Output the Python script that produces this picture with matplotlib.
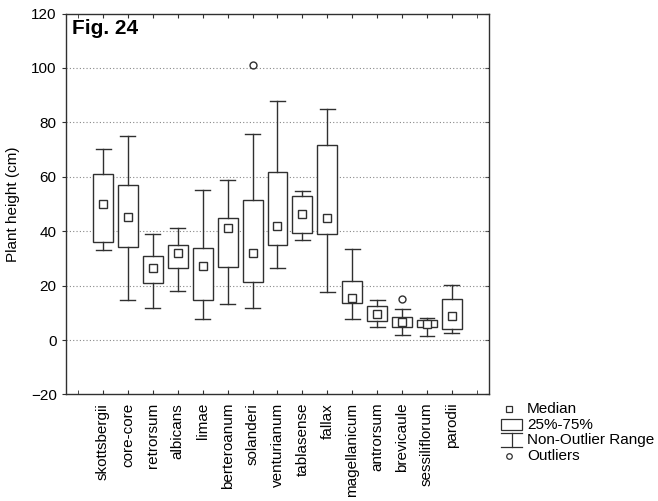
"""
Box plot of plant height per taxon (Fig. 24).
"""

import matplotlib
matplotlib.use("Agg")
import matplotlib.pyplot as plt
from matplotlib.lines import Line2D
from matplotlib.patches import Rectangle

plt.rcParams["font.family"] = ["Liberation Sans", "DejaVu Sans"]

# Taxa, left to right
TAXA = ["skottsbergii", "core-core", "retrorsum", "albicans", "limae",
        "berteroanum", "solanderi", "venturianum", "tablasense", "fallax",
        "magellanicum", "antrorsum", "brevicaule", "sessiliflorum", "parodii"]

# Plant height (cm)
MEDIAN = [50.1, 45.2, 26.4, 31.9, 27.4, 41.0, 31.9, 41.8, 46.2, 44.8,
          15.3, 9.6, 6.6, 6.0, 8.9]
Q25 = [36.0, 34.1, 21.0, 26.4, 14.7, 26.7, 21.2, 34.8, 39.3, 38.9,
       13.5, 6.9, 4.9, 4.7, 3.9]
Q75 = [61.0, 57.0, 31.0, 34.8, 34.0, 44.8, 51.4, 61.9, 52.8, 71.8,
       21.6, 12.6, 8.4, 7.2, 15.2]
RANGE_MIN = [33.0, 14.7, 11.9, 17.9, 7.7, 13.2, 11.7, 26.6, 36.8, 17.8,
             7.6, 4.9, 1.8, 1.5, 2.7]
RANGE_MAX = [70.2, 75.1, 39.0, 41.0, 55.0, 58.9, 75.9, 88.0, 54.8, 84.9,
             33.6, 14.7, 11.5, 8.2, 20.4]
OUTLIERS = {"solanderi": [101.0], "brevicaule": [15.0]}

EDGE = "#303030"

stats = []
for i, name in enumerate(TAXA):
    stats.append(dict(label=name, med=MEDIAN[i], q1=Q25[i], q3=Q75[i],
                      whislo=RANGE_MIN[i], whishi=RANGE_MAX[i],
                      fliers=OUTLIERS.get(name, [])))
pos = list(range(1, len(TAXA) + 1))

fig = plt.figure(figsize=(6.58, 5.01), dpi=100)
ax = fig.add_axes([0.0998, 0.2126, 0.6438, 0.7604])

ax.bxp(stats, positions=pos, widths=0.8, capwidths=0.6, patch_artist=True,
       showfliers=True,
       boxprops=dict(facecolor="white", edgecolor=EDGE, linewidth=1.0),
       whiskerprops=dict(color=EDGE, linewidth=1.0),
       capprops=dict(color=EDGE, linewidth=1.0),
       medianprops=dict(visible=False),
       flierprops=dict(marker="o", markerfacecolor="none", markeredgecolor=EDGE,
                       markersize=5, markeredgewidth=1.0),
       zorder=2)
ax.plot(pos, MEDIAN, ls="none", marker="s", ms=6, mfc="white", mec=EDGE,
        mew=1.0, zorder=3)

ax.set_xlim(-0.5, 16.5)
ax.set_ylim(-20, 120)
ax.set_yticks(range(-20, 121, 20))
ax.set_xticks(pos)
ax.set_xticklabels(TAXA, rotation=90, fontsize=11)
ax.set_xticks([0, 16], minor=True)
ax.tick_params(axis="x", which="both", direction="in", length=3, top=True,
               pad=6, color=EDGE)
ax.tick_params(axis="y", direction="out", length=3, labelsize=11, color=EDGE)
sec = ax.secondary_yaxis("right")
sec.set_yticks(range(-20, 121, 20))
sec.tick_params(direction="in", length=3, labelright=False, color=EDGE)
sec.spines["right"].set_visible(False)

for y in range(0, 101, 20):
    ax.axhline(y, color="#888888", lw=0.8, ls=(0, (1, 2)), zorder=1)

for s in ax.spines.values():
    s.set_color(EDGE)
    s.set_linewidth(1.0)

ax.set_ylabel("Plant height (cm)", fontsize=11, labelpad=8)
ax.text(0.015, 0.985, "Fig. 24", transform=ax.transAxes, fontsize=15,
        fontweight="bold", va="top", ha="left")

# legend drawn by hand, right of the plot
tx = 0.801
rows = [0.1836, 0.1517, 0.1218, 0.0898]
labels = ["Median", "25%-75%", "Non-Outlier Range", "Outliers"]
for y, lab in zip(rows, labels):
    fig.text(tx, y, lab, fontsize=11, va="center", ha="left")

W, H = 658.0, 501.0
fig.add_artist(Line2D([508.5 / W], [rows[0]], marker="s", ms=4, mfc="white",
                      mec=EDGE, mew=0.9, ls="none", transform=fig.transFigure))
fig.add_artist(Rectangle((501 / W, 1 - 430 / H), 21 / W, 11 / H, fill=False,
                         edgecolor=EDGE, lw=0.9, transform=fig.transFigure))
fig.add_artist(Line2D([501 / W, 522 / W], [1 - 433 / H] * 2, color=EDGE,
                      lw=0.9, transform=fig.transFigure))
fig.add_artist(Line2D([511.5 / W] * 2, [1 - 433 / H, 1 - 447 / H], color=EDGE,
                      lw=0.9, transform=fig.transFigure))
fig.add_artist(Line2D([501 / W, 522 / W], [1 - 447 / H] * 2, color=EDGE,
                      lw=0.9, transform=fig.transFigure))
fig.add_artist(Line2D([509 / W], [rows[3]], marker="o", ms=4, mfc="none",
                      mec=EDGE, mew=0.9, ls="none", transform=fig.transFigure))

fig.savefig("out.png", dpi=100)
